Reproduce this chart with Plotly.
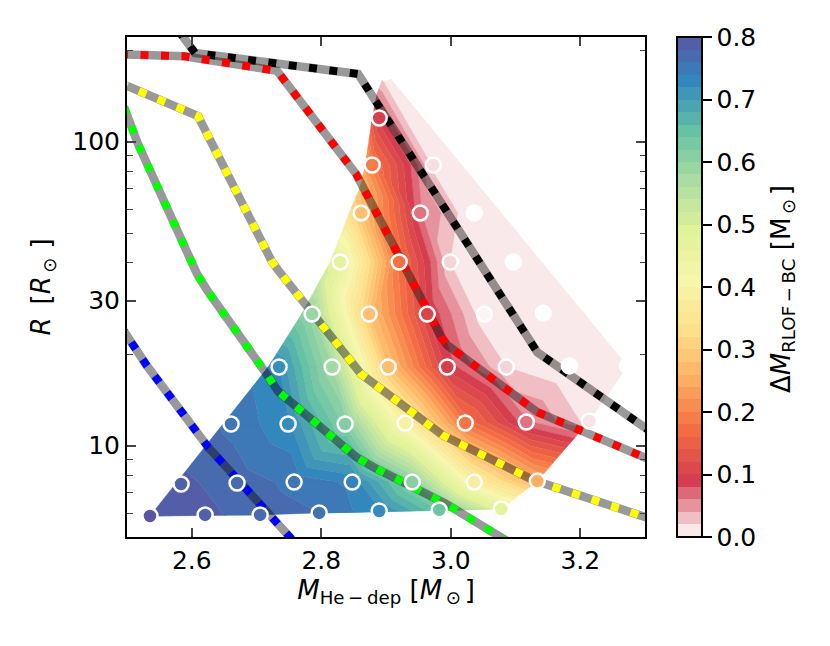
import numpy as np
import plotly.graph_objects as go

# grid points: helium depletion mass, radius, mass lost between RLOF and BC
mass_he = [2.5355, 2.6206, 2.7056, 2.7968, 2.8895, 2.9822, 3.0781,
           2.5835, 2.6700, 2.7581, 2.8478, 2.9405, 3.0363, 3.1337,
           2.6607, 2.7488, 2.8369, 2.9297, 3.0224, 3.1167, 3.2141,
           2.7349, 2.8168, 2.9034, 2.9946, 3.0858, 3.1832, 3.2728,
           2.7859, 2.8740, 2.9637, 3.0518, 3.1430,
           2.8292, 2.9204, 2.9992, 3.0966,
           2.8617, 2.9529, 3.0363,
           2.8787, 2.9730,
           2.8895,
           2.8988]
radius = [5.87, 5.92, 5.92, 6.01, 6.10, 6.15, 6.19,
          7.48, 7.54, 7.59, 7.59, 7.59, 7.59, 7.65,
          11.79, 11.79, 11.79, 11.88, 11.88, 11.97, 12.06,
          18.15, 18.15, 18.15, 18.15, 18.15, 18.3, 18.3,
          27.1, 27.1, 27.1, 27.1, 27.3,
          40.2, 40.2, 40.2, 40.2,
          58.3, 58.3, 58.3,
          83.8, 83.8,
          119.7,
          169.6]
delta_m = [0.802, 0.785, 0.77, 0.76, 0.725, 0.64, 0.47,
           0.785, 0.77, 0.755, 0.735, 0.61, 0.38, 0.25,
           0.755, 0.725, 0.615, 0.39, 0.18, 0.065, 0.012,
           0.72, 0.58, 0.28, 0.092, 0.02, 0.0, 0.0,
           0.59, 0.28, 0.10, 0.005, 0.0,
           0.47, 0.175, 0.02, 0.0,
           0.28, 0.065, 0.0,
           0.19, 0.015,
           0.09,
           0.0]
# low mass outline of the filled region, it sits a bit left of the models
edge_mass = [2.7179, 2.7705, 2.7983, 2.8138, 2.8431, 2.8601, 2.8679, 2.8787, 2.8864]
edge_radius = [18.15, 27.3, 35.1, 40.2, 58.3, 71.0, 83.8, 119.7, 144.6]
edge_dm = [0.73, 0.61, 0.52, 0.49, 0.33, 0.28, 0.24, 0.13, 0.05]

# dashed tracks
black_x = [2.5788, 2.6051, 2.8570, 2.8879, 2.9714, 3.0564, 3.1337, 3.2991, 3.3238]
black_y = [233, 195.8, 167, 132, 68.3, 35.9, 20.3, 11.5, 10.6]
red_x = [2.4892, 2.5881, 2.7318, 2.8539, 2.9853, 2.9946, 3.1337, 3.1631, 3.3238]
red_y = [194, 191, 171, 78.3, 22.8, 21.4, 12.9, 12.15, 8.7]
yellow_x = [2.4892, 2.6097, 2.7241, 2.7334, 2.8617, 2.9869, 3.1275, 3.3238]
yellow_y = [156, 121.5, 40.2, 37.8, 17.2, 10.85, 7.71, 5.61]
green_x = [2.4954, 2.5170, 2.6082, 2.6236, 2.7164, 2.7334, 2.8539, 2.8802, 2.9930, 3.0920]
green_y = [130, 98.3, 36.7, 32.5, 17.1, 15.1, 9.18, 8.51, 6.43, 4.79]
blue_x = [2.4892, 2.5309, 2.6252, 2.7597]
blue_y = [24.9, 18.3, 9.9, 4.79]

x_ticks = [2.6, 2.8, 3.0, 3.2]
y_ticks = [10, 30, 100]
y_minor = [6, 7, 8, 9, 20, 40, 50, 60, 70, 80, 90, 200]
cbar_ticks = [0.0, 0.1, 0.2, 0.3, 0.4, 0.5, 0.6, 0.7, 0.8]
levels = np.linspace(0, 0.8, 41)

# white to red, then reversed Spectral
cmap_z = [0.0, 0.09, 0.17, 0.25, 0.33, 0.41, 0.49, 0.57, 0.65, 0.73, 0.81]
cmap_rgb = np.array([[255, 255, 255], [213, 62, 79], [244, 109, 67], [253, 174, 97], [254, 224, 139],
                     [247, 247, 172], [225, 242, 152], [171, 221, 164], [102, 194, 165], [50, 136, 189], [94, 79, 162]])


def rgb_at(v):
    c = [np.interp(v, cmap_z, cmap_rgb[:, k]) for k in range(3)]
    return "rgb(%d,%d,%d)" % (c[0], c[1], c[2])


def delaunay(px, py):
    # bowyer-watson, no scipy here
    n = len(px)
    pts = [(px[i], py[i]) for i in range(n)] + [(-1e4, -1e4), (1e4, -1e4), (0, 1e4)]
    tris = [(n, n + 1, n + 2)]
    for i in range(n):
        ax, ay = pts[i]
        bad = []
        for t in tris:
            (x1, y1), (x2, y2), (x3, y3) = [pts[k] for k in t]
            d = 2 * (x1 * (y2 - y3) + x2 * (y3 - y1) + x3 * (y1 - y2))
            if d == 0:
                continue
            ux = ((x1**2 + y1**2) * (y2 - y3) + (x2**2 + y2**2) * (y3 - y1) + (x3**2 + y3**2) * (y1 - y2)) / d
            uy = ((x1**2 + y1**2) * (x3 - x2) + (x2**2 + y2**2) * (x1 - x3) + (x3**2 + y3**2) * (x2 - x1)) / d
            if (ax - ux)**2 + (ay - uy)**2 < (x1 - ux)**2 + (y1 - uy)**2:
                bad.append(t)
        edges = {}
        for t in bad:
            for e in [(t[0], t[1]), (t[1], t[2]), (t[2], t[0])]:
                edges[tuple(sorted(e))] = edges.get(tuple(sorted(e)), 0) + 1
        tris = [t for t in tris if t not in bad]
        tris += [(e[0], e[1], i) for e, c in edges.items() if c == 1]
    return [t for t in tris if max(t) < n]


def clip(poly, level, keep_above):
    # cut a polygon of (x, logy, z) vertices at z = level
    out = []
    for a, b in zip(poly, poly[1:] + poly[:1]):
        a_in = a[2] >= level if keep_above else a[2] <= level
        b_in = b[2] >= level if keep_above else b[2] <= level
        if a_in:
            out.append(a)
        if a_in != b_in:
            f = (level - a[2]) / (b[2] - a[2])
            out.append((a[0] + f * (b[0] - a[0]), a[1] + f * (b[1] - a[1]), level))
    return out


fill_x = mass_he + edge_mass
fill_z = delta_m + edge_dm
log_r = [float(v) for v in np.log10(radius + edge_radius)]
triangles = delaunay([(m - 2.5) * 647 for m in fill_x], [v * 304 for v in log_r])

# throw away triangles on the outer side of the outline
line_x = [mass_he[0]] + edge_mass + [mass_he[-1]]
line_y = [float(v) for v in np.log10([radius[0]] + edge_radius + [radius[-1]])]
keep = []
for t in triangles:
    mid_x = sum(fill_x[k] for k in t) / 3
    mid_y = sum(log_r[k] for k in t) / 3
    if mid_x > np.interp(mid_y, line_y, line_x):
        keep.append(t)
triangles = keep

fig = go.Figure()

# filled bands, same idea as tricontourf
for lo, hi in zip(levels[:-1], levels[1:]):
    band_x, band_y = [], []
    for t in triangles:
        poly = [(fill_x[k], log_r[k], fill_z[k]) for k in t]
        poly = clip(poly, lo, True)
        if poly:
            poly = clip(poly, hi, False)
        if len(poly) < 3:
            continue
        band_x += [p[0] for p in poly] + [poly[0][0], None]
        band_y += [10 ** p[1] for p in poly] + [10 ** poly[0][1], None]
    if band_x:
        col = rgb_at((lo + hi) / 2)
        fig.add_trace(go.Scatter(x=band_x, y=band_y, mode="lines", fill="toself", fillcolor=col,
                                 line=dict(color=col, width=0.4, simplify=False),
                                 hoverinfo="skip", showlegend=False))

for tx, ty, col in [(black_x, black_y, "black"), (red_x, red_y, "red"), (yellow_x, yellow_y, "yellow"),
                    (green_x, green_y, "lime"), (blue_x, blue_y, "blue")]:
    fig.add_trace(go.Scatter(x=tx, y=ty, mode="lines", line=dict(color="rgba(0,0,0,0.4)", width=8.5),
                             hoverinfo="skip", showlegend=False))
    fig.add_trace(go.Scatter(x=tx, y=ty, mode="lines", line=dict(color=col, width=7.8, dash="8px,12.5px"),
                             hoverinfo="skip", showlegend=False))

fig.add_trace(go.Scatter(x=mass_he, y=radius, mode="markers",
                         marker=dict(size=15, color=[rgb_at(v) for v in delta_m], line=dict(color="white", width=2.5)),
                         showlegend=False))

# only here for the stepped colorbar
steps = []
for i, (lo, hi) in enumerate(zip(levels[:-1], levels[1:])):
    col = rgb_at((lo + hi) / 2)
    steps += [[i / 40, col], [(i + 1) / 40, col]]
fig.add_trace(go.Scatter(x=[mass_he[0]], y=[radius[0]], mode="markers", showlegend=False, hoverinfo="skip",
                         marker=dict(size=1, opacity=0, color=[0.4], cmin=0, cmax=0.8, colorscale=steps, showscale=True,
                                     colorbar=dict(x=1.0618, xanchor="left", xpad=0, y=0.5, yanchor="middle", ypad=0,
                                                   len=1, lenmode="fraction", thickness=25, thicknessmode="pixels",
                                                   outlinewidth=2, outlinecolor="black", tickmode="array",
                                                   tickvals=cbar_ticks, tickformat=".1f", ticks="outside", tickprefix="\u2009",
                                                   ticklen=9, tickwidth=1.7, tickcolor="black"))))

# the page adds 8px around the plot, so 822x638 fills the 830x646 window
fig.update_layout(
    width=822, height=638, plot_bgcolor="white", paper_bgcolor="white",
    margin=dict(l=119, r=185, t=29, b=109, autoexpand=False),
    font=dict(family="DejaVu Sans", size=25, color="black"),
    annotations=[dict(text="Δ<i>M</i><sub>RLOF\u2009−\u2009BC</sub> [M<sub>\u2009⊙\u2009</sub>]", xref="paper", yref="paper",
                      x=1.2645, y=0.496, xanchor="center", yanchor="middle", textangle=-90, showarrow=False,
                      font=dict(size=26))],
)
fig.update_xaxes(range=[2.5, 3.3], tickmode="array", tickvals=x_ticks, tickformat=".1f", ticks="inside", ticklen=9,
                 tickwidth=1.7, mirror="allticks", showline=True, linecolor="black", linewidth=2, showgrid=False,
                 zeroline=False, title=dict(text="<i>M</i><sub>He\u2009−\u2009dep</sub> [<i>M</i><sub>\u2009⊙\u2009</sub>]", standoff=6, font=dict(size=26)))
fig.update_yaxes(type="log", range=[0.6997, 2.3444], tickmode="array", tickvals=y_ticks, ticks="inside", ticklen=9,
                 tickwidth=1.7, mirror="allticks", showline=True, linecolor="black", linewidth=2, showgrid=False,
                 zeroline=False, minor=dict(tickmode="array", tickvals=y_minor, ticks="inside", ticklen=5.5, tickwidth=1.3, showgrid=False),
                 title=dict(text="<i>R</i>\u2002[<i>R</i><sub>\u2009⊙\u2009</sub>\u2009]", standoff=14, font=dict(size=26)))

fig.write_html("out.html")
